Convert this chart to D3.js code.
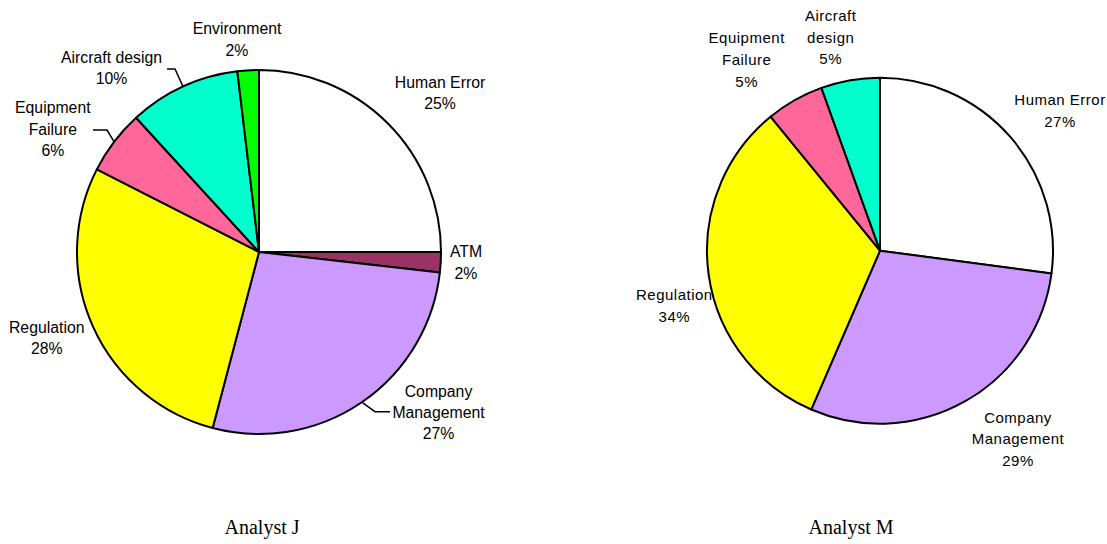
<!DOCTYPE html>
<html>
<head>
<meta charset="utf-8">
<script src="https://cdn.jsdelivr.net/npm/d3@7"></script>
<style>
  body { margin: 0; background: #fff; }
  .lbl { font-family: "Liberation Sans", Arial, sans-serif; fill: #000; }
  .title { font-family: "Liberation Serif", "Times New Roman", serif; font-size: 20px; fill: #000; }
</style>
</head>
<body>
<div id="chart"></div>
<script>
var svgWidth = 1107;
var svgHeight = 544;

// Analyst J
var catsJ = ["Human Error", "ATM", "Company Management", "Regulation", "Equipment Failure", "Aircraft design", "Environment"];
var valsJ = [25.0, 1.8, 27.3, 28.4, 5.7, 9.9, 1.9];
var pctJ = ["25%", "2%", "27%", "28%", "6%", "10%", "2%"];

// Analyst M
var catsM = ["Human Error", "Company Management", "Regulation", "Equipment Failure", "Aircraft design"];
var valsM = [27.1, 29.4, 32.6, 5.4, 5.5];
var pctM = ["27%", "29%", "34%", "5%", "5%"];

var colors = {
  "Human Error": "#ffffff",
  "ATM": "#993366",
  "Company Management": "#cc99ff",
  "Regulation": "#ffff00",
  "Equipment Failure": "#ff6699",
  "Aircraft design": "#00ffcc",
  "Environment": "#00ff00"
};

var svg = d3.select("#chart")
  .append("svg")
  .attr("width", svgWidth)
  .attr("height", svgHeight);

// label layout: line breaks, offset of first baseline from pie centre, optional leader elbow
var layoutJ = {
  "Human Error":        { lines: ["Human Error"], x: 181, y: -164.3 },
  "ATM":                { lines: ["ATM"], x: 207, y: 5.3 },
  "Company Management": { lines: ["Company", "Management"], x: 179.5, y: 144.7, elbow: [116, 159.7], end: [131, 159.7] },
  "Regulation":         { lines: ["Regulation"], x: -212.3, y: 80.7 },
  "Equipment Failure":  { lines: ["Equipment", "Failure"], x: -206.2, y: -138.7, elbow: [-152, -122], end: [-166, -122] },
  "Aircraft design":    { lines: ["Aircraft design"], x: -147.5, y: -189.3, elbow: [-84, -183], end: [-92, -183] },
  "Environment":        { lines: ["Environment"], x: -22, y: -217.7 }
};

var layoutM = {
  "Human Error":        { lines: ["Human Error"], x: 180, y: -145.7 },
  "Company Management": { lines: ["Company", "Management"], x: 138, y: 172 },
  "Regulation":         { lines: ["Regulation"], x: -205.7, y: 49.3 },
  "Equipment Failure":  { lines: ["Equipment", "Failure"], x: -133.3, y: -207.4 },
  "Aircraft design":    { lines: ["Aircraft", "design"], x: -49.3, y: -229.7 }
};

function drawPie(cats, vals, pcts, opts) {
  var g = svg.append("g")
    .attr("transform", `translate(${opts.cx}, ${opts.cy})`);

  var data = cats.map(function(c, i) { return { name: c, value: vals[i], pct: pcts[i] }; });

  var pie = d3.pie().sort(null).value(d => d.value);
  var arc = d3.arc().innerRadius(0).outerRadius(opts.r);
  var arcs = pie(data);

  // labels first so the pie sits on top of them
  var labels = g.selectAll(".lbl")
    .data(arcs)
    .enter()
    .append("text")
    .attr("class", "lbl")
    .attr("text-anchor", "middle")
    .attr("font-size", opts.fontSize + "px")
    .attr("letter-spacing", opts.spacing + "px");

  labels.each(function(d) {
    var lay = opts.layout[d.data.name];
    var lines = lay.lines.concat([d.data.pct]);
    var t = d3.select(this);
    lines.forEach(function(line, i) {
      t.append("tspan")
        .attr("x", lay.x)
        .attr("y", lay.y + i * opts.lineH)
        .text(line);
    });
  });

  g.selectAll("path.slice")
    .data(arcs)
    .enter()
    .append("path")
    .attr("class", "slice")
    .attr("d", arc)
    .attr("fill", d => colors[d.data.name])
    .attr("stroke", "#000")
    .attr("stroke-width", 2)
    .attr("stroke-linejoin", "round");

  // leader lines from slice edge
  var edge = d3.arc().innerRadius(opts.r).outerRadius(opts.r);
  arcs.forEach(function(d) {
    var lay = opts.layout[d.data.name];
    if (!lay.elbow) return;
    var p = edge.centroid(d);
    g.append("polyline")
      .attr("points", [p, lay.elbow, lay.end].map(q => q.join(",")).join(" "))
      .attr("fill", "none")
      .attr("stroke", "#000")
      .attr("stroke-width", 1.5);
  });

  svg.append("text")
    .attr("class", "title")
    .attr("x", opts.titleX)
    .attr("y", opts.titleY)
    .attr("text-anchor", "middle")
    .text(opts.title);
}

drawPie(catsJ, valsJ, pctJ, {
  cx: 259, cy: 252, r: 182, layout: layoutJ,
  fontSize: 15.8, spacing: 0, lineH: 21.3,
  title: "Analyst J", titleX: 262, titleY: 534
});

drawPie(catsM, valsM, pctM, {
  cx: 880, cy: 250.7, r: 173, layout: layoutM,
  fontSize: 15, spacing: 0.5, lineH: 21.7,
  title: "Analyst M", titleX: 851, titleY: 534
});
</script>
</body>
</html>
